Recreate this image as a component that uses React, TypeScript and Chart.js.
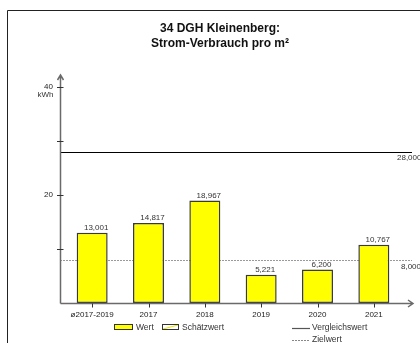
import React, { useEffect, useRef } from 'react';
import { Chart, registerables } from 'chart.js';

Chart.register(...registerables);

const categories = ['ø2017-2019', '2017', '2018', '2019', '2020', '2021'];
const values = [13.001, 14.817, 18.967, 5.221, 6.2, 10.767];
const yTicks = [10, 20, 30, 40];
const labelledTicks = [20, 40];
const yMax = 40;
const vergleichswert = 28;
const zielwert = 8;
const titleLines = ['34 DGH Kleinenberg:', 'Strom-Verbrauch pro m²'];
const unitLabel = 'kWh';
const legendLabels = ['Wert', 'Schätzwert', 'Vergleichswert', 'Zielwert'];

const FONT = '"Liberation Sans", Arial, sans-serif';
const fmt = (v: number) => v.toFixed(3).replace('.', ',');

const customPlugin = {
  id: 'custom',
  beforeDatasetsDraw(chart: any) {
    const { ctx, chartArea, scales } = chart;
    const y = scales.y;
    const axisX = chartArea.left - 4;
    const endX = chartArea.right + 10;
    ctx.save();
    const yv = Math.round(y.getPixelForValue(vergleichswert)) + 0.5;
    ctx.strokeStyle = '#000';
    ctx.lineWidth = 1.2;
    ctx.beginPath();
    ctx.moveTo(axisX, yv);
    ctx.lineTo(endX, yv);
    ctx.stroke();
    const yz = Math.round(y.getPixelForValue(zielwert)) + 0.5;
    ctx.strokeStyle = '#9a9a9a';
    ctx.lineWidth = 1;
    ctx.setLineDash([2, 1]);
    ctx.beginPath();
    ctx.moveTo(axisX, yz);
    ctx.lineTo(endX, yz);
    ctx.stroke();
    ctx.setLineDash([]);
    ctx.font = `8px ${FONT}`;
    ctx.fillStyle = '#333';
    ctx.textAlign = 'left';
    ctx.textBaseline = 'middle';
    ctx.fillText(fmt(vergleichswert), endX - 15, yv + 5.5);
    ctx.fillText(fmt(zielwert), endX - 11, yz + 6.5);
    ctx.restore();
  },
  afterDatasetsDraw(chart: any) {
    const { ctx, chartArea, scales } = chart;
    const x = scales.x;
    const y = scales.y;
    const axisX = chartArea.left - 4 + 0.5;
    const axisY = Math.round(y.getPixelForValue(0)) + 0.5;
    const topY = y.getPixelForValue(yMax) - 12;
    const endX = chartArea.right + 11;
    ctx.save();
    // axes
    ctx.strokeStyle = '#6a6a6a';
    ctx.lineWidth = 1.5;
    ctx.beginPath();
    ctx.moveTo(axisX, axisY);
    ctx.lineTo(axisX, topY);
    ctx.moveTo(axisX - 3, topY + 5);
    ctx.lineTo(axisX, topY);
    ctx.lineTo(axisX + 3, topY + 5);
    ctx.stroke();
    ctx.beginPath();
    ctx.moveTo(axisX, axisY);
    ctx.lineTo(endX, axisY);
    ctx.moveTo(endX - 5, axisY - 3.5);
    ctx.lineTo(endX, axisY);
    ctx.lineTo(endX - 5, axisY + 3.5);
    ctx.stroke();
    // y ticks
    ctx.lineWidth = 1;
    ctx.strokeStyle = '#333';
    ctx.beginPath();
    yTicks.forEach((t) => {
      const py = Math.round(y.getPixelForValue(t)) + 0.5;
      ctx.moveTo(axisX - 3.5, py);
      ctx.lineTo(axisX + 3, py);
    });
    // x ticks
    categories.forEach((_, i) => {
      const px = Math.round(x.getPixelForValue(i)) + 0.5;
      ctx.moveTo(px, axisY);
      ctx.lineTo(px, axisY + 4);
    });
    ctx.stroke();
    // unit label
    ctx.font = `8px ${FONT}`;
    ctx.fillStyle = '#333';
    ctx.textAlign = 'right';
    ctx.textBaseline = 'middle';
    ctx.fillText(unitLabel, axisX - 7, y.getPixelForValue(yMax) + 8);
    // data labels
    const meta = chart.getDatasetMeta(0);
    ctx.textAlign = 'center';
    ctx.textBaseline = 'alphabetic';
    meta.data.forEach((el: any, i: number) => {
      ctx.fillText(fmt(values[i]), el.x + 4, el.y - 2.5);
    });
    // title
    ctx.fillStyle = '#111';
    ctx.font = `bold 12px ${FONT}`;
    ctx.textBaseline = 'middle';
    ctx.fillText(titleLines[0], 220, 29);
    ctx.fillText(titleLines[1], 220, 43.5);
    // frame
    ctx.strokeStyle = '#222';
    ctx.lineWidth = 1;
    ctx.beginPath();
    ctx.moveTo(7.5, 343);
    ctx.lineTo(7.5, 10.5);
    ctx.lineTo(420, 10.5);
    ctx.stroke();
    // legend
    ctx.font = `8.5px ${FONT}`;
    ctx.textAlign = 'left';
    ctx.textBaseline = 'middle';
    ctx.fillStyle = '#ffff00';
    ctx.fillRect(114.5, 324.5, 18, 5);
    ctx.strokeStyle = '#333';
    ctx.strokeRect(114.5, 324.5, 18, 5);
    ctx.fillStyle = '#333';
    ctx.fillText(legendLabels[0], 136, 328);
    ctx.fillStyle = '#fff';
    ctx.fillRect(162.5, 324.5, 16, 5);
    ctx.strokeStyle = '#e6e600';
    ctx.beginPath();
    ctx.moveTo(163, 329);
    ctx.lineTo(178, 325);
    ctx.stroke();
    ctx.strokeStyle = '#333';
    ctx.strokeRect(162.5, 324.5, 16, 5);
    ctx.fillStyle = '#333';
    ctx.fillText(legendLabels[1], 182, 328);
    ctx.strokeStyle = '#555';
    ctx.lineWidth = 1.2;
    ctx.beginPath();
    ctx.moveTo(292, 328.5);
    ctx.lineTo(310, 328.5);
    ctx.stroke();
    ctx.fillText(legendLabels[2], 312, 328);
    ctx.strokeStyle = '#888';
    ctx.lineWidth = 1;
    ctx.setLineDash([2, 1]);
    ctx.beginPath();
    ctx.moveTo(292, 340.5);
    ctx.lineTo(310, 340.5);
    ctx.stroke();
    ctx.setLineDash([]);
    ctx.fillText(legendLabels[3], 312, 340);
    ctx.restore();
  },
};

export default function App() {
  const ref = useRef<HTMLCanvasElement | null>(null);
  useEffect(() => {
    if (!ref.current) return;
    const chart = new Chart(ref.current, {
      type: 'bar',
      data: {
        labels: categories,
        datasets: [
          {
            label: legendLabels[0],
            data: values,
            backgroundColor: '#ffff00',
            borderColor: '#3a3a3a',
            borderWidth: 1.5,
            borderSkipped: false,
            categoryPercentage: 1,
            barPercentage: 0.55,
          },
        ],
      },
      options: {
        animation: false,
        responsive: false,
        maintainAspectRatio: false,
        layout: { padding: { left: 0, right: 18, top: 87, bottom: 0 } },
        plugins: {
          legend: { display: false },
          title: { display: false },
          tooltip: { enabled: false },
        },
        scales: {
          x: {
            type: 'category',
            offset: true,
            grid: { display: false, drawTicks: false },
            border: { display: false },
            ticks: {
              color: '#222',
              font: { family: FONT, size: 8 },
              padding: 7,
              maxRotation: 0,
              autoSkip: false,
            },
            afterFit: (s: any) => {
              s.height = 40;
            },
          },
          y: {
            min: 0,
            max: yMax,
            grid: { display: false, drawTicks: false },
            border: { display: false },
            ticks: {
              stepSize: 10,
              color: '#222',
              font: { family: FONT, size: 8 },
              padding: 11,
              callback: (v: any) => (labelledTicks.includes(Number(v)) ? String(v) : ''),
            },
            afterFit: (s: any) => {
              s.width = 64;
            },
          },
        },
      },
      plugins: [customPlugin],
    });
    return () => chart.destroy();
  }, []);
  return (
    <div style={{ position: 'absolute', left: 0, top: 0, width: 420, height: 343, background: '#fff' }}>
      <canvas ref={ref} width={420} height={343} />
    </div>
  );
}
